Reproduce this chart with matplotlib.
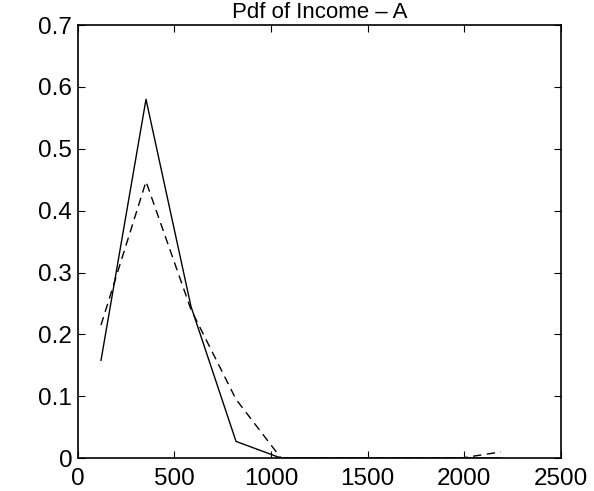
import numpy as np
import matplotlib.pyplot as plt

plt.rcParams['font.family'] = ['Liberation Sans', 'DejaVu Sans']

# income grid (bin centres) and the two pdf estimates
income = [120, 353, 586, 819, 1052, 1285, 1518, 1751, 1984, 2190]
pdf_solid = [0.158, 0.58, 0.245, 0.027, 0.0, 0.0, 0.0, 0.0, 0.0, 0.0]
pdf_dashed = [0.215, 0.447, 0.24, 0.095, 0.0, 0.0, 0.0, 0.0, 0.0, 0.01]

fig = plt.figure(figsize=(5.94, 4.91), dpi=100)
ax = fig.add_axes([0.131, 0.067, 0.813, 0.882])

ax.plot(income, pdf_solid, color='black', lw=1.0)
ax.plot(income, pdf_dashed, color='black', lw=1.0, dashes=(6, 4))

ax.set_xlim(0, 2500)
ax.set_ylim(0, 0.7)
ax.set_xticks(np.arange(0, 2501, 500))
ax.set_yticks(np.arange(0, 0.71, 0.1))
ax.set_yticklabels(['0', '0.1', '0.2', '0.3', '0.4', '0.5', '0.6', '0.7'])
ax.tick_params(direction='in', top=True, right=True, labelsize=17.5,
               length=5, width=0.8)
ax.tick_params(axis='x', pad=7)
ax.tick_params(axis='y', pad=4)
for s in ax.spines.values():
    s.set_linewidth(1.2)
ax.set_title('Pdf of Income – A', fontsize=16, pad=5)

fig.savefig('out.png', dpi=100)
